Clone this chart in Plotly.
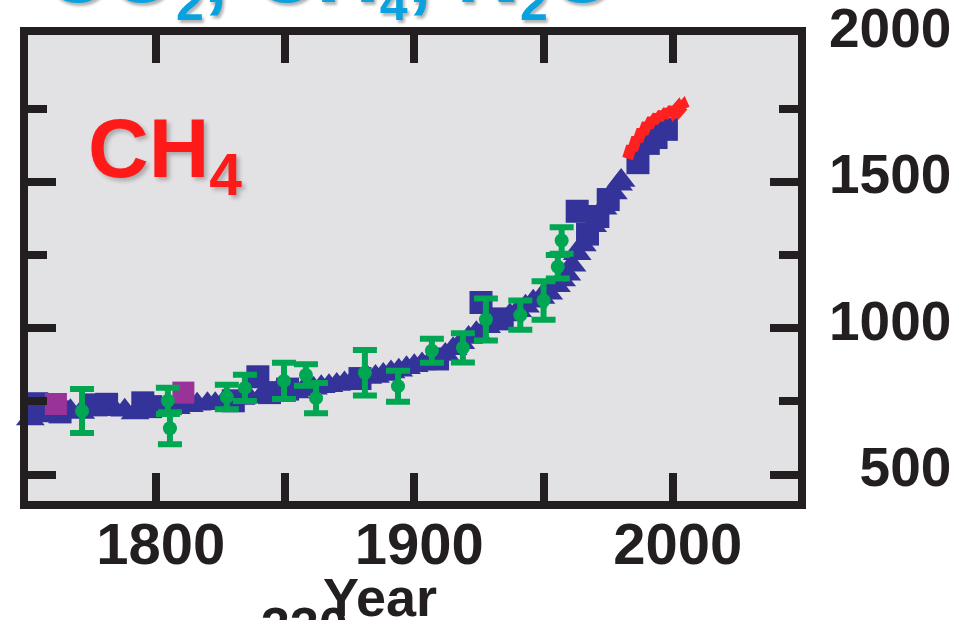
import plotly.graph_objects as go

# ---- data -------------------------------------------------------------
# ice-core CH4 (ppb), square symbols
blue_sq_year = [1754, 1763, 1777, 1781, 1795, 1798, 1830, 1839.5, 1844, 1851,
                1879, 1909, 1925.8, 1934, 1963, 1967, 1971, 1975, 1986.5,
                1990.5, 1993.5, 1997.5]
blue_sq_val = [742, 714, 738, 740, 745, 732, 752, 834, 780, 792,
               828, 895, 1088, 1032, 1400, 1322, 1382, 1440, 1566,
               1632, 1652, 1680]

# ice-core CH4 (ppb), triangle symbols
blue_tri_year = [1751.5, 1757, 1767, 1771, 1784, 1788, 1792, 1802, 1808, 1813,
                 1816, 1820, 1823, 1826, 1833, 1836, 1841, 1847, 1854, 1857,
                 1861, 1864, 1867, 1870, 1873, 1876, 1882, 1885, 1888, 1891,
                 1894, 1897, 1900, 1903, 1906, 1912, 1915, 1918, 1921, 1924,
                 1928, 1931, 1937, 1940, 1943, 1946, 1949, 1952, 1955, 1957,
                 1959, 1961, 1963, 1965, 1969, 1973, 1977, 1979, 1980]
blue_tri_val = [690, 700, 718, 712, 722, 720, 710, 726, 728, 735,
                740, 742, 742, 745, 760, 765, 770, 785, 782, 790,
                795, 800, 803, 808, 813, 818, 832, 835, 842, 850,
                856, 865, 872, 878, 885, 910, 930, 950, 968, 985,
                1005, 1020, 1045, 1060, 1075, 1092, 1105, 1120, 1145, 1165,
                1185, 1215, 1255, 1285, 1350, 1410, 1462, 1492, 1505]

# second ice-core record
magenta_year = [1761.4, 1810.7]
magenta_val = [741, 780]

# firn / ice-core record with uncertainty
green_year = [1771.5, 1804.7, 1805.5, 1827.5, 1834.5, 1849.6, 1858.1, 1862,
              1880.9, 1893.7, 1906.8, 1918.8, 1927.7, 1941, 1950, 1955.5, 1957]
green_val = [717, 752, 658, 765, 796, 820, 840, 761,
             848, 802, 923, 933, 1030, 1045, 1095, 1210, 1300]
green_err = [75, 45, 55, 42, 45, 62, 37, 52,
             78, 53, 41, 50, 72, 50, 66, 40, 45]

# direct atmospheric measurements
red_year = [1982.5, 1983.0, 1983.5, 1984.0, 1984.5, 1985.0, 1985.5, 1986.0,
            1986.5, 1987.0, 1987.5, 1988.0, 1988.5, 1989.0, 1989.5, 1990.0,
            1990.5, 1991.0, 1991.5, 1992.0, 1992.5, 1993.0, 1993.5, 1994.0,
            1994.5, 1995.0, 1995.5, 1996.0, 1996.5, 1997.0, 1997.5, 1998.0,
            1998.5, 1999.0, 1999.5, 2000.0, 2000.5, 2001.0, 2001.5, 2002.0,
            2002.5, 2003.0, 2003.5, 2004.0, 2004.5]
red_val = [1580, 1604, 1592, 1622, 1610, 1638, 1626, 1652,
           1640, 1665, 1654, 1678, 1666, 1690, 1678, 1700,
           1688, 1710, 1698, 1716, 1705, 1722, 1711, 1727,
           1716, 1731, 1720, 1735, 1724, 1739, 1728, 1744,
           1733, 1748, 1737, 1751, 1740, 1753, 1742, 1755,
           1745, 1758, 1747, 1760, 1750]

x_ticks = [1800, 1900, 2000]
x_tick_text = ["1800", "1900", "2000"]
y_ticks = [500, 1000, 1500]
y_label_vals = [500, 1000, 1500, 2000]
y_label_text = ["\u2007500", "1000", "1500", "2000"]

# ---- styling ------------------------------------------------------------
W, H = 978, 620
ML, MR, MT, MB = 28, 180, 35, 119
PW, PH = W - ML - MR, H - MT - MB

FRAME = "#231f20"
BLUE = "#333399"
MAGENTA = "#993399"
GREEN = "#00a651"
RED = "#ff2020"
FONT = "Liberation Sans"

Y0 = 409.4
PPU = 0.2925                     # pixels per ppb
Y1 = Y0 + PH / PPU


def px_x(px):
    return (px - ML) / PW


def px_y(py):
    return (H - MB - py) / PH


fig = go.Figure()

fig.add_trace(go.Scatter(
    x=blue_tri_year, y=blue_tri_val, mode="markers", cliponaxis=False,
    marker=dict(symbol="triangle-up", size=25, color=BLUE, line=dict(width=0)),
    showlegend=False, hoverinfo="skip"))
fig.add_trace(go.Scatter(
    x=blue_sq_year, y=blue_sq_val, mode="markers", cliponaxis=False,
    marker=dict(symbol="square", size=23, color=BLUE, line=dict(width=0)),
    showlegend=False, hoverinfo="skip"))
fig.add_trace(go.Scatter(
    x=magenta_year, y=magenta_val, mode="markers",
    marker=dict(symbol="square", size=22, color=MAGENTA, line=dict(width=0)),
    showlegend=False, hoverinfo="skip"))
fig.add_trace(go.Scatter(
    x=green_year, y=green_val, mode="markers",
    marker=dict(symbol="circle", size=14, color=GREEN, line=dict(width=0)),
    error_y=dict(type="data", array=green_err, visible=True,
                 color=GREEN, thickness=6, width=12),
    showlegend=False, hoverinfo="skip"))
fig.add_trace(go.Scatter(
    x=red_year, y=red_val, mode="lines",
    line=dict(color=RED, width=11),
    showlegend=False, hoverinfo="skip"))
# empty carrier so the label axis is laid out
fig.add_trace(go.Scatter(x=[None], y=[None], yaxis="y2", mode="markers",
                         showlegend=False, hoverinfo="skip"))

fig.update_layout(
    width=W, height=H,
    margin=dict(l=ML, r=MR, t=MT, b=MB, pad=0, autoexpand=False),
    paper_bgcolor="white",
    plot_bgcolor="#e2e2e4",
    showlegend=False,
    xaxis=dict(
        range=[1750.6, 2048.4], anchor="y", automargin=False,
        showgrid=False, zeroline=False,
        showline=True, linewidth=8, linecolor=FRAME, mirror="allticks",
        ticks="inside", ticklen=28, tickwidth=8, tickcolor=FRAME,
        tickvals=x_ticks, ticktext=x_tick_text,
        minor=dict(ticks="inside", ticklen=19, tickwidth=8, tickcolor=FRAME,
                   dtick=50, tick0=1750, showgrid=False),
        tickfont=dict(family=FONT, size=58, color=FRAME, weight="bold"),
        ticklabelstandoff=-15, ticklabelshift=5,
    ),
    yaxis=dict(
        range=[Y0, Y1], anchor="x", automargin=False,
        showgrid=False, zeroline=False,
        showline=True, linewidth=8, linecolor=FRAME, mirror="allticks",
        ticks="inside", ticklen=28, tickwidth=8, tickcolor=FRAME,
        tickvals=y_ticks,
        minor=dict(ticks="inside", ticklen=19, tickwidth=8, tickcolor=FRAME,
                   dtick=250, tick0=0, showgrid=False),
        showticklabels=False,
    ),
    yaxis2=dict(
        overlaying="y", side="right", anchor="x", range=[Y0, Y1],
        automargin=False,
        showgrid=False, zeroline=False, showline=False, ticks="",
        tickvals=y_label_vals, ticktext=y_label_text,
        tickfont=dict(family=FONT, size=55, color=FRAME, weight="bold"),
        ticklabelshift=-8, ticklabelstandoff=30, ticklabeloverflow="allow",
    ),
)

# gas names across the top
SUB = "<sub><span style='font-size:50px'>{}</span></sub>"
title_text = ("CO" + SUB.format("2") + ", CH" + SUB.format("4") +
              ", N" + SUB.format("2") + "O")
fig.add_annotation(
    text=title_text, xref="paper", yref="paper",
    x=px_x(43), y=px_y(-79), xanchor="left", yanchor="top",
    showarrow=False, borderpad=0,
    font=dict(family=FONT, size=88, color="#0aa2de", weight="bold",
              shadow="2px 3px 3px rgba(0,0,0,0.3)"))

# species label inside the panel
fig.add_annotation(
    text="CH<sub>4</sub>", xref="paper", yref="paper",
    x=px_x(87), y=px_y(100), xanchor="left", yanchor="top",
    showarrow=False, borderpad=0,
    font=dict(family=FONT, size=84, color="#ff1a1a", weight="bold",
              shadow="3px 3px 4px rgba(0,0,0,0.25)"))

# axis title
fig.add_annotation(
    text="Year", xref="paper", yref="paper",
    x=px_x(380), y=px_y(566), xanchor="center", yanchor="top",
    showarrow=False, borderpad=0,
    font=dict(family=FONT, size=54, color=FRAME, weight="bold"))

# top of the next panel's tick label
fig.add_annotation(
    text="330", xref="paper", yref="paper",
    x=px_x(260), y=px_y(596), xanchor="left", yanchor="top",
    showarrow=False, borderpad=0,
    font=dict(family=FONT, size=52, color=FRAME, weight="bold"))

fig.write_html("out.html")
